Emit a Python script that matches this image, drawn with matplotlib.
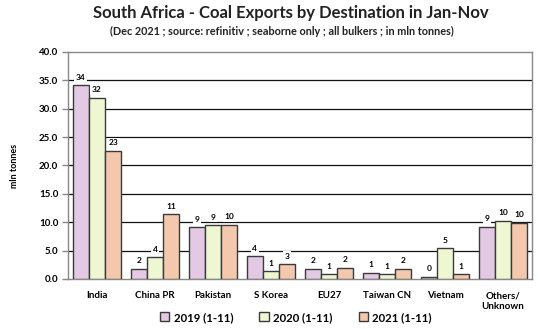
import matplotlib
matplotlib.use("Agg")
import matplotlib.pyplot as plt
import numpy as np

plt.rcParams['font.family'] = ['Lato', 'DejaVu Sans']
plt.rcParams['font.weight'] = 'bold'

categories = ["India", "China PR", "Pakistan", "S Korea", "EU27", "Taiwan CN", "Vietnam", "Others/\nUnknown"]
series_names = ["2019 (1-11)", "2020 (1-11)", "2021 (1-11)"]
v2019 = [34.1, 1.8, 9.1, 4.0, 1.8, 1.1, 0.4, 9.2]
v2020 = [31.9, 3.8, 9.45, 1.4, 0.8, 0.8, 5.4, 10.3]
v2021 = [22.6, 11.4, 9.6, 2.6, 2.0, 1.8, 0.8, 9.9]
colors = ["#E3C9E3", "#EEF7D2", "#F3C8AC"]

fig = plt.figure(figsize=(5.48, 3.29), dpi=100)
ax = fig.add_axes([0.124, 0.152, 0.847, 0.690])

x = np.arange(len(categories))
w = 0.28
for i, (vals, c, name) in enumerate(zip([v2019, v2020, v2021], colors, series_names)):
    pos = x + (i - 1) * w
    ax.bar(pos, vals, width=w, color=c, edgecolor="#3a3a3a", linewidth=1.0, label=name, zorder=3)
    for px, v in zip(pos, vals):
        ax.text(px, v + 0.8, "%.0f" % v, ha="center", va="bottom", fontsize=6, fontweight="bold",
                bbox=dict(facecolor="white", edgecolor="none", pad=1.2), zorder=4)

ax.set_ylim(0, 40)
ax.set_xlim(-0.5, len(categories) - 0.5)
ax.set_yticks(np.arange(0, 41, 5))
ax.set_yticklabels(["%.1f" % t for t in np.arange(0, 41, 5)], fontsize=7, fontweight="bold")
for t in np.arange(5, 40, 5):
    ax.axhline(t, color="#111111", linewidth=0.9, zorder=1)
ax.set_xticks(x)
ax.set_xticklabels(categories, fontsize=7, fontweight="bold")
ax.tick_params(axis="x", length=0, pad=9)
ax.tick_params(axis="y", length=4, width=1, color="#888888", pad=3)
for s in ax.spines.values():
    s.set_color("#888888")
    s.set_linewidth(1.0)

ax.set_ylabel("mln tonnes", fontsize=6.5, fontweight="bold", labelpad=14)

fig.text(0.53, 0.945, "South Africa - Coal Exports by Destination in Jan-Nov", ha="center",
         fontsize=12, fontweight="bold", color="#222222")
fig.text(0.515, 0.893, "(Dec 2021 ; source: refinitiv ; seaborne only ; all bulkers ; in mln tonnes)",
         ha="center", fontsize=7.8, fontweight="bold", color="#222222")

fig.legend(loc="lower center", bbox_to_anchor=(0.54, -0.012), ncol=3, frameon=False,
           handlelength=0.8, handleheight=0.8, columnspacing=2.3, handletextpad=0.4,
           prop={"weight": "bold", "size": 8.2})

fig.savefig("out.png", dpi=100)
